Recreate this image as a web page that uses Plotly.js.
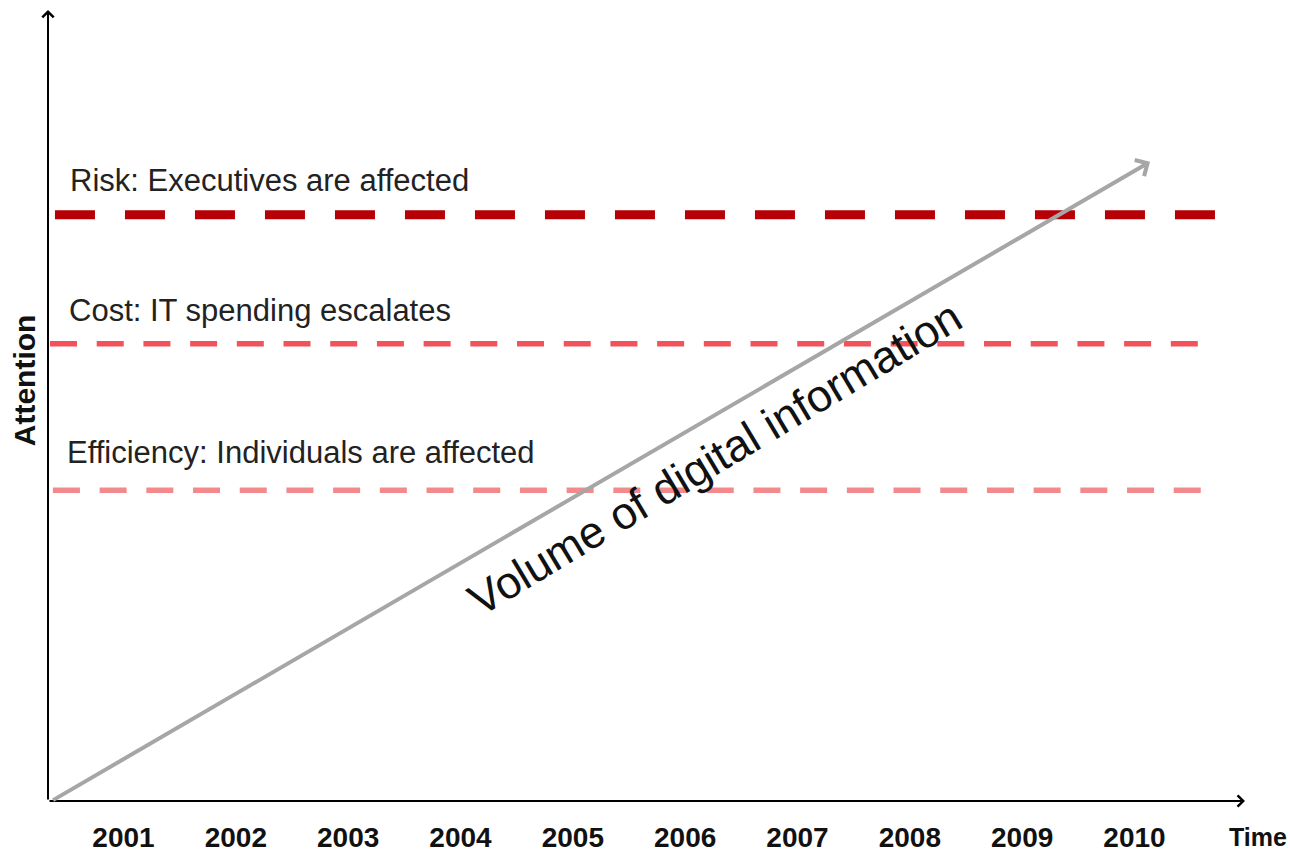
<!DOCTYPE html>
<html>
<head>
<meta charset="utf-8">
<script src="https://cdn.plot.ly/plotly-3.0.1.min.js"></script>
<style>html,body{margin:0;padding:0;background:#fff;}#chart{width:1290px;height:853px;}</style>
</head>
<body>
<div id="chart"></div>
<script>
// ---- data ----
const years = [2001, 2002, 2003, 2004, 2005, 2006, 2007, 2008, 2009, 2010];
const tickLabels = ['2001', '2002', '2003', '2004', '2005', '2006', '2007', '2008', '2009', '2010'];
const levelNames = ['Risk: Executives are affected', 'Cost: IT spending escalates', 'Efficiency: Individuals are affected'];
const levelAttention = [74.1, 57.8, 39.3];
const levelStart = [2000.39, 2000.346, 2000.372];
const levelEnd = [2010.744, 2010.60, 2010.61];
const labelAttention = [78.4, 62.0, 44.0];
const labelStart = [2000.51, 2000.497, 2000.48];
const volumeStart = [2000.36, 0];
const volumeEnd = [2010.138, 80.8];
const axisOrigin = [2000.328, 0];
const axisEnd = [2010.984, 100];

const levelColors = ['#B60006', '#F2535B', '#F28A8C'];
const levelWidths = [9, 5.5, 5.5];
const levelDash = ['40px,30px', '27px,19.7px', '27px,19.7px'];
const FONT = '"Liberation Sans", Arial, sans-serif';

const traces = levelNames.map((name, i) => ({
  type: 'scatter', mode: 'lines', name: name,
  x: [levelStart[i], levelEnd[i]],
  y: [levelAttention[i], levelAttention[i]],
  line: {color: levelColors[i], width: levelWidths[i], dash: levelDash[i]},
  hoverinfo: 'skip', showlegend: false
}));

const annotations = [];
// axes with arrows
annotations.push({x: axisEnd[0], y: axisOrigin[1], ax: axisOrigin[0], ay: axisOrigin[1],
  xref: 'x', yref: 'y', axref: 'x', ayref: 'y', text: '', showarrow: true,
  arrowhead: 4, arrowsize: 1.1, arrowwidth: 2, arrowcolor: '#000', standoff: 0});
annotations.push({x: axisOrigin[0], y: axisEnd[1], ax: axisOrigin[0], ay: axisOrigin[1],
  xref: 'x', yref: 'y', axref: 'x', ayref: 'y', text: '', showarrow: true,
  arrowhead: 4, arrowsize: 1.1, arrowwidth: 2, arrowcolor: '#000', standoff: 0});
// volume arrow
annotations.push({x: volumeEnd[0], y: volumeEnd[1], ax: volumeStart[0], ay: volumeStart[1],
  xref: 'x', yref: 'y', axref: 'x', ayref: 'y', text: '', showarrow: true,
  arrowhead: 4, arrowsize: 0.9, arrowwidth: 4, arrowcolor: '#A6A6A6', standoff: 0});
// level labels
levelNames.forEach((name, i) => {
  annotations.push({x: labelStart[i], y: labelAttention[i], xref: 'x', yref: 'y',
    text: name, showarrow: false, xanchor: 'left', yanchor: 'middle',
    font: {family: FONT, size: 31, color: '#222'}});
});
annotations.push({x: 0.5565, y: 0.4336, xref: 'paper', yref: 'paper',
  text: 'Volume of digital information', showarrow: false, textangle: -31,
  xanchor: 'center', yanchor: 'middle', font: {family: FONT, size: 45, color: '#111'}});
annotations.push({x: -0.02, y: 0.532, xref: 'paper', yref: 'paper', text: '<b>Attention</b>',
  showarrow: false, textangle: -90, xanchor: 'center', yanchor: 'middle',
  font: {family: FONT, size: 30, color: '#111'}});
annotations.push({x: 1.011, y: -0.0455, xref: 'paper', yref: 'paper', text: '<b>Time</b>',
  showarrow: false, xanchor: 'center', yanchor: 'middle',
  font: {family: FONT, size: 25, color: '#111'}});

const layout = {
  width: 1290, height: 853,
  margin: {l: 48, r: 45, t: 10, b: 52, pad: 0},
  paper_bgcolor: '#fff', plot_bgcolor: '#fff',
  showlegend: false,
  xaxis: {range: [axisOrigin[0], axisEnd[0]], tickvals: years, ticktext: tickLabels,
    showgrid: false, zeroline: false, showline: false, ticks: '', ticklabelstandoff: 17,
    tickfont: {family: FONT, size: 28, color: '#111', weight: 'bold'}, fixedrange: true},
  yaxis: {range: [axisOrigin[1], axisEnd[1]], showgrid: false, zeroline: false,
    showline: false, showticklabels: false, ticks: '', fixedrange: true},
  annotations: annotations
};

Plotly.newPlot('chart', traces, layout, {displayModeBar: false, staticPlot: true});
</script>
</body>
</html>
